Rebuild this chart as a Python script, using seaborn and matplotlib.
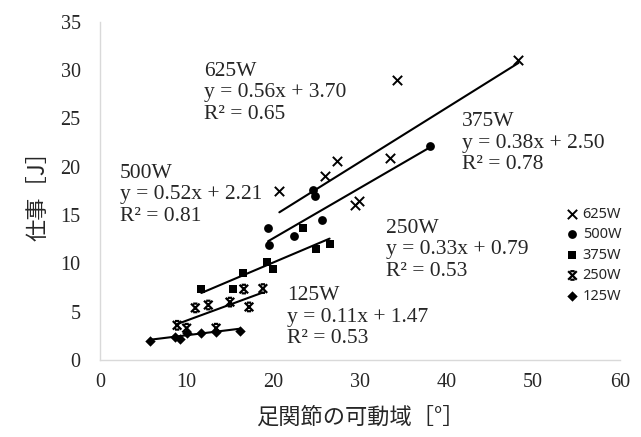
import numpy as np
import pandas as pd
import matplotlib.pyplot as plt
from matplotlib.path import Path
import seaborn as sns

# data
series = ['625W', '500W', '375W', '250W', '125W']
x_625 = [20.7, 26.0, 27.4, 29.4, 29.9, 33.5, 34.3, 48.3]
y_625 = [17.5, 19.1, 20.6, 16.0, 16.5, 20.9, 29.0, 31.1]
x_500 = [19.4, 19.5, 22.4, 24.6, 24.8, 25.6, 38.1]
y_500 = [13.7, 11.9, 12.8, 17.6, 17.0, 14.5, 22.2]
x_375 = [11.7, 15.4, 16.5, 19.3, 20.0, 23.4, 24.9, 26.5]
y_375 = [7.35, 7.4, 9.0, 10.2, 9.4, 13.7, 11.5, 12.0]
x_250 = [8.9, 10.0, 11.0, 12.5, 13.4, 15.0, 16.6, 17.2, 18.8]
y_250 = [3.6, 3.3, 5.4, 5.7, 3.3, 6.0, 7.35, 5.5, 7.4]
x_125 = [5.8, 8.7, 9.2, 10.0, 11.7, 13.4, 16.2]
y_125 = [1.97, 2.4, 2.2, 2.8, 2.8, 2.9, 3.0]

slopes = [0.56, 0.52, 0.38, 0.33, 0.11]
intercepts = [3.70, 2.21, 2.50, 0.79, 1.47]
r2 = [0.65, 0.81, 0.78, 0.53, 0.53]

xs = [x_625, x_500, x_375, x_250, x_125]
ys = [y_625, y_500, y_375, y_250, y_125]

# x with short caps marker for 250W
cap_x = Path([(-1, -1), (1, 1), (-1, 1), (1, -1), (-0.5, 1), (0.5, 1), (-0.5, -1), (0.5, -1)],
             [Path.MOVETO, Path.LINETO, Path.MOVETO, Path.LINETO,
              Path.MOVETO, Path.LINETO, Path.MOVETO, Path.LINETO])
markers = {'625W': 'x', '500W': 'o', '375W': 's', '250W': cap_x, '125W': 'D'}
sizes = {'625W': 45, '500W': 40, '375W': 38, '250W': 38, '125W': 28}

# label block positions (left x, middle-line y)
label_pos = {'625W': (12.0, 27.65), '500W': (2.3, 17.1), '375W': (41.8, 22.45),
             '250W': (33.0, 11.4), '125W': (21.6, 4.45)}

sns.set_style('white')
serif = ['Liberation Serif', 'DejaVu Serif']
cjk = ['Noto Sans CJK JP', 'DejaVu Sans']

fig, ax = plt.subplots(figsize=(6.41, 4.37), dpi=100)
fig.subplots_adjust(left=0.156, right=0.967, bottom=0.176, top=0.95)

for name, x, y, a, b, r in zip(series, xs, ys, slopes, intercepts, r2):
    df = pd.DataFrame({'x': x, 'y': y})
    m = markers[name]
    if name in ('500W', '375W', '125W'):
        sns.scatterplot(data=df, x='x', y='y', marker=m, s=sizes[name], color='black',
                        edgecolor='black', linewidth=0, label=name, ax=ax, zorder=3)
    elif name == '250W':
        sns.scatterplot(data=df, x='x', y='y', marker=m, s=sizes[name], facecolor='none',
                        edgecolor='black', linewidth=1.6, label=name, ax=ax, zorder=3)
    else:
        sns.scatterplot(data=df, x='x', y='y', marker=m, s=sizes[name], color='black',
                        linewidth=1.4, label=name, ax=ax, zorder=3)
    # linear trendline over the data range
    lx = np.array([min(x), max(x)])
    ax.plot(lx, a * lx + b, color='black', lw=1.5, zorder=2)
    px, py = label_pos[name]
    ax.text(px, py, f'{name}\ny = {a:.2f}x + {b:.2f}\nR² = {r:.2f}',
            family=serif, fontsize=15.5, va='center', ha='left', linespacing=1.2)

ax.set_xlim(0, 60)
ax.set_ylim(0, 35)
ax.set_xticks(range(0, 61, 10))
ax.set_yticks(range(0, 36, 5))
for lab in ax.get_xticklabels() + ax.get_yticklabels():
    lab.set_family(serif)
    lab.set_fontsize(14.5)
ax.tick_params(axis='x', length=0, pad=9)
ax.tick_params(axis='y', length=0, pad=14)

for s in ['top', 'right']:
    ax.spines[s].set_visible(False)
for s in ['left', 'bottom']:
    ax.spines[s].set_color('#d9d9d9')
    ax.spines[s].set_linewidth(1.0)

ax.set_xlabel('足関節の可動域［°］', family=cjk, fontsize=16, labelpad=10)
ax.set_ylabel('仕事［J］', family=cjk, fontsize=16, labelpad=8)

ax.legend(loc='center left', bbox_to_anchor=(0.878, 0.31), frameon=False,
          prop={'family': ['Noto Sans', 'DejaVu Sans'], 'size': 10.5},
          handletextpad=0.1, labelspacing=0.38, borderpad=0, handlelength=1.2)

plt.savefig('out.png', dpi=100)
